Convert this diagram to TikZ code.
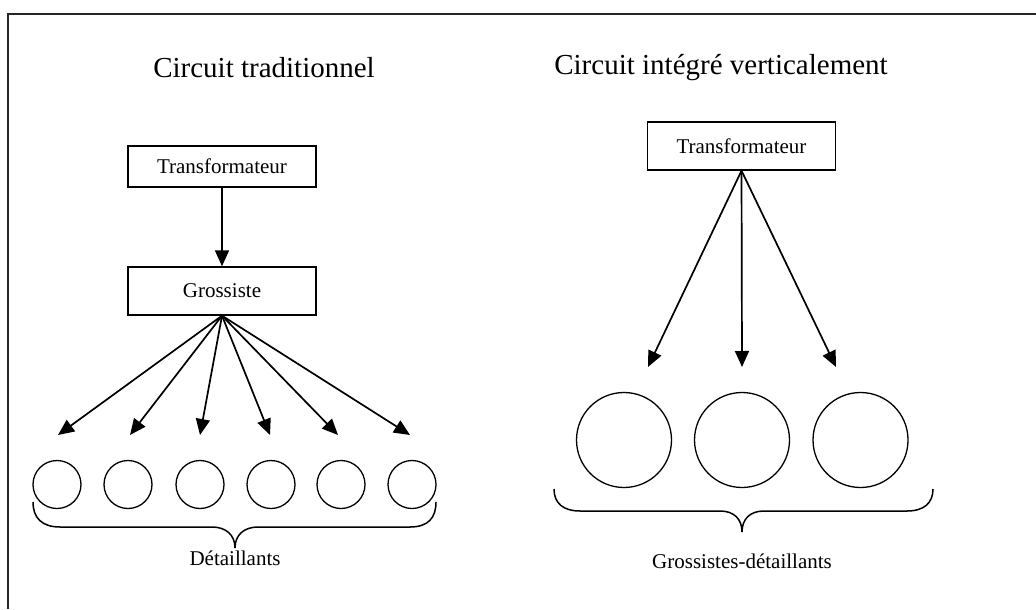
\documentclass[tikz,border=0pt]{standalone}
\usepackage{fontspec}
\setmainfont{Liberation Serif}
\usetikzlibrary{arrows.meta}
\begin{document}
\begin{tikzpicture}[x=0.5pt,y=-0.5pt,
  frame/.style={line width=0.8pt,black!85},
  title/.style={font=\fontsize{14.5}{17}\selectfont,inner sep=0pt},
  box/.style={draw,line width=0.7pt,inner sep=0pt,minimum width=94pt,font=\fontsize{10.5}{12}\selectfont},
  lbl/.style={font=\fontsize{10.5}{12}\selectfont,inner sep=0pt},
  ring/.style={draw,circle,line width=0.65pt,inner sep=0pt},
  arr/.style={line width=0.85pt,-{Triangle[length=8pt,width=7pt]}},
  brc/.style={line width=0.75pt}]
\useasboundingbox (0,0) rectangle (1036,609);
% frame
\draw[frame] (8,609) -- (8,14) -- (1036,14);
% titles
\node[title] (t1) at (264,68) {Circuit traditionnel};
\node[title] (t2) at (721,68) {Circuit intégré verticalement};
% left diagram
\node[box,minimum height=20.5pt] (tr1) at (222,166.5) {Transformateur};
\node[box,minimum height=24pt] (gr) at (222,291) {Grossiste};
\draw[arr] (tr1.south) -- (gr.north);
\foreach \i/\cx/\tx in {1/57/58,2/128/130,3/200/200,4/271/270,5/341/338,6/412/410}{
  \node[ring,minimum size=24pt] (d\i) at (\cx,484.5) {};
  \coordinate (a\i) at (\tx,435);
  \draw[arr] (gr.south) -- (a\i);
}
\draw[brc] (33,502) .. controls (33,518) and (42,527) .. (60,527) -- (212,527)
  .. controls (226,527) and (235,535) .. (235,548)
  .. controls (235,535) and (244,527) .. (258,527) -- (410,527)
  .. controls (428,527) and (436,518) .. (436,502);
\node[lbl] (det) at (235,558) {Détaillants};
% right diagram
\node[box,minimum height=24pt] (tr2) at (741.5,146) {Transformateur};
\foreach \i/\cx/\tx in {1/624/648,2/742/742,3/860.5/836}{
  \node[ring,minimum size=47.5pt] (g\i) at (\cx,440) {};
  \coordinate (b\i) at (\tx,367);
  \draw[arr] (tr2.south) -- (b\i);
}
\draw[brc] (554,489) .. controls (554,503) and (563,511) .. (580,511) -- (720,511)
  .. controls (734,511) and (742,519) .. (742,532)
  .. controls (742,519) and (750,511) .. (764,511) -- (907,511)
  .. controls (924,511) and (933,503) .. (933,489);
\node[lbl] (gd) at (742,561) {Grossistes-détaillants};
\end{tikzpicture}
\end{document}
